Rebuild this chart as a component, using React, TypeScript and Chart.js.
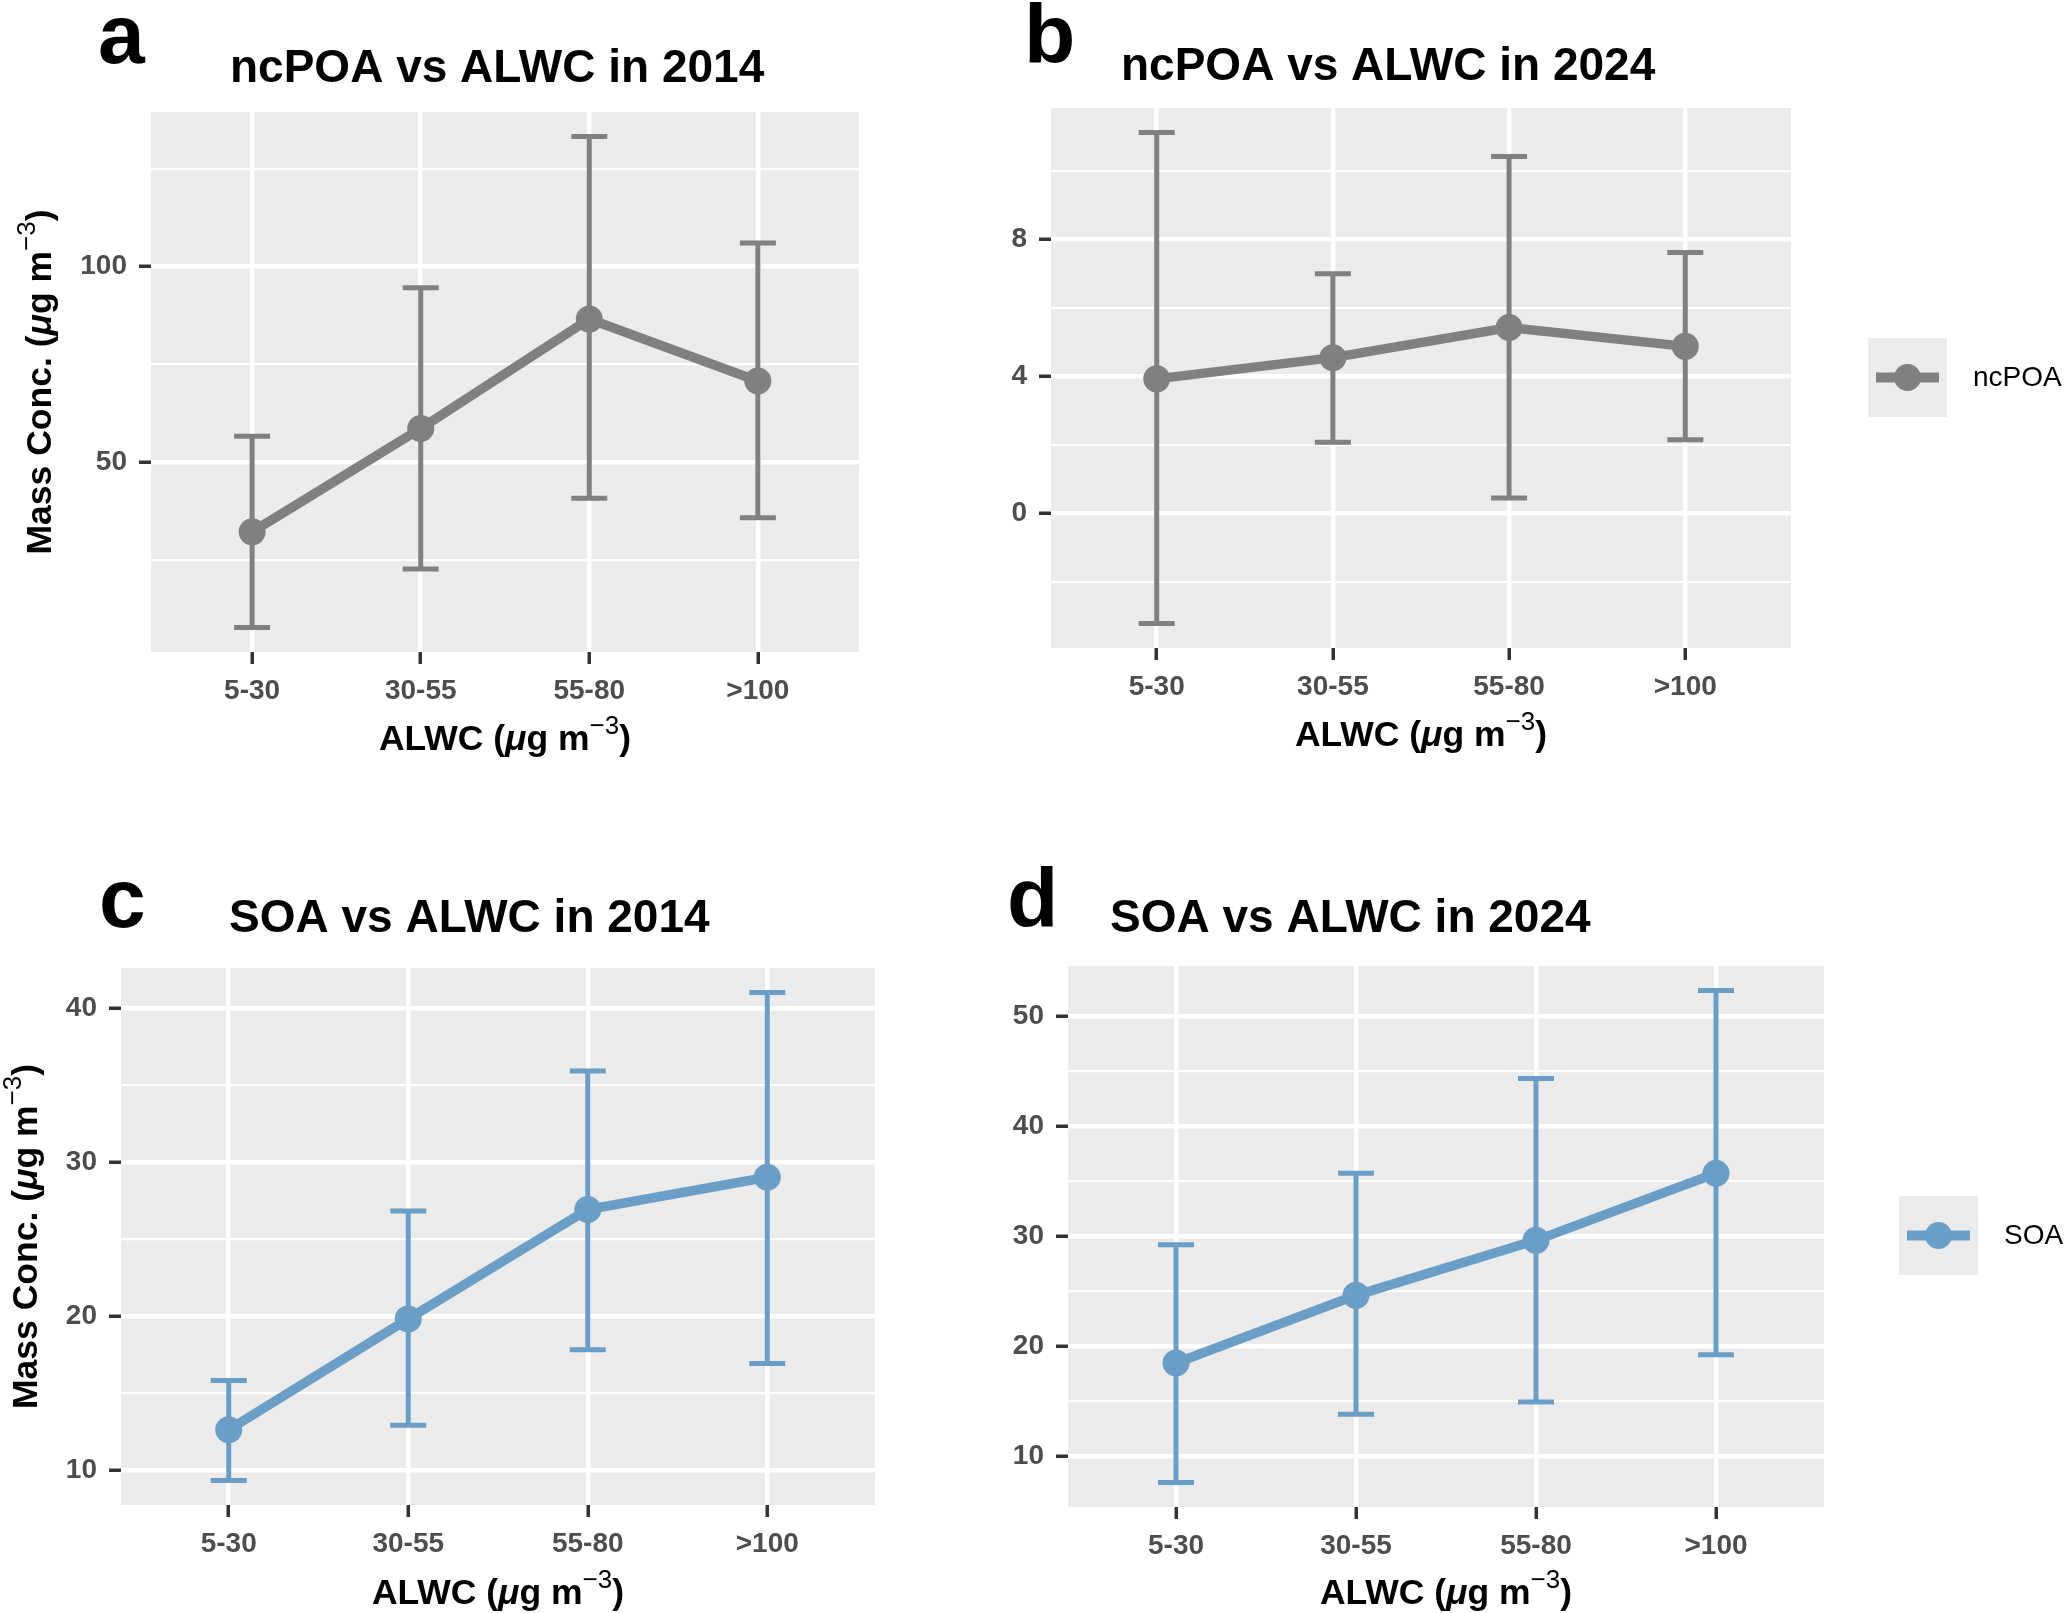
import React, { useEffect, useRef } from 'react';
import { Chart, registerables } from 'chart.js';

Chart.register(...registerables);

// ---------------- data ----------------
const CATEGORIES = ['5-30', '30-55', '55-80', '>100'];

const NCPOA_2014_MEAN = [32.3, 58.7, 86.6, 70.8];
const NCPOA_2014_UPPER = [56.7, 94.6, 133.2, 106.0];
const NCPOA_2014_LOWER = [7.9, 22.8, 40.9, 35.9];

const NCPOA_2024_MEAN = [3.93, 4.55, 5.43, 4.88];
const NCPOA_2024_UPPER = [11.13, 7.0, 10.43, 7.62];
const NCPOA_2024_LOWER = [-3.22, 2.08, 0.45, 2.15];

const SOA_2014_MEAN = [12.6, 19.8, 26.9, 29.0];
const SOA_2014_UPPER = [15.8, 26.8, 35.9, 41.0];
const SOA_2014_LOWER = [9.3, 12.9, 17.8, 16.9];

const SOA_2024_MEAN = [18.45, 24.6, 29.6, 35.7];
const SOA_2024_UPPER = [29.2, 35.7, 44.3, 52.3];
const SOA_2024_LOWER = [7.6, 13.8, 14.9, 19.2];

const A_Y_MAJOR = [50, 100];
const A_Y_MINOR = [25, 75, 125];
const B_Y_MAJOR = [0, 4, 8];
const B_Y_MINOR = [-2, 2, 6, 10];
const C_Y_MAJOR = [10, 20, 30, 40];
const C_Y_MINOR = [15, 25, 35];
const D_Y_MAJOR = [10, 20, 30, 40, 50];
const D_Y_MINOR = [15, 25, 35, 45];

const SERIES_NCPOA = 'ncPOA';
const SERIES_SOA = 'SOA';

// ---------------- style ----------------
const FONT = '"Liberation Sans", Arial, Helvetica, sans-serif';
const GREY = '#808080';
const BLUE = '#6B9EC6';
const PANEL_BG = '#EBEBEB';
const TICK_TEXT = '#4D4D4D';
const TICK_MARK = '#333333';

type Box = { left: number; top: number; width: number; height: number };
type Area = { l: number; t: number; r: number; b: number };
type PanelCfg = {
  letter: string;
  title: string;
  series: string;
  mean: number[];
  upper: number[];
  lower: number[];
  yMajor: number[];
  yMinor: number[];
  color: string;
  canvas: Box;
  area: Area;
  letterPos: [number, number];
  titlePos: [number, number];
  yTitleX: number;
  xTitleY: number;
  legend?: { x: number; y: number; s: number; textX: number };
};

const PANELS: PanelCfg[] = [
  {
    letter: 'a', title: 'ncPOA vs ALWC in 2014', series: SERIES_NCPOA,
    mean: NCPOA_2014_MEAN, upper: NCPOA_2014_UPPER, lower: NCPOA_2014_LOWER,
    yMajor: A_Y_MAJOR, yMinor: A_Y_MINOR, color: GREY,
    canvas: { left: 0, top: 0, width: 1000, height: 800 },
    area: { l: 151, t: 112, r: 859, b: 652 },
    letterPos: [98, 63], titlePos: [230, 82], yTitleX: 51, xTitleY: 750,
  },
  {
    letter: 'b', title: 'ncPOA vs ALWC in 2024', series: SERIES_NCPOA,
    mean: NCPOA_2024_MEAN, upper: NCPOA_2024_UPPER, lower: NCPOA_2024_LOWER,
    yMajor: B_Y_MAJOR, yMinor: B_Y_MINOR, color: GREY,
    canvas: { left: 1000, top: 0, width: 1066, height: 800 },
    area: { l: 1051, t: 108, r: 1791, b: 648 },
    letterPos: [1024, 63], titlePos: [1121, 80], yTitleX: 983, xTitleY: 746,
    legend: { x: 1868, y: 338, s: 79, textX: 1973 },
  },
  {
    letter: 'c', title: 'SOA vs ALWC in 2014', series: SERIES_SOA,
    mean: SOA_2014_MEAN, upper: SOA_2014_UPPER, lower: SOA_2014_LOWER,
    yMajor: C_Y_MAJOR, yMinor: C_Y_MINOR, color: BLUE,
    canvas: { left: 0, top: 806, width: 1000, height: 807 },
    area: { l: 121, t: 968, r: 875, b: 1505 },
    letterPos: [99, 927], titlePos: [229, 932], yTitleX: 37, xTitleY: 1604,
  },
  {
    letter: 'd', title: 'SOA vs ALWC in 2024', series: SERIES_SOA,
    mean: SOA_2024_MEAN, upper: SOA_2024_UPPER, lower: SOA_2024_LOWER,
    yMajor: D_Y_MAJOR, yMinor: D_Y_MINOR, color: BLUE,
    canvas: { left: 1000, top: 806, width: 1066, height: 807 },
    area: { l: 1068, t: 966, r: 1824, b: 1507 },
    letterPos: [1007, 927], titlePos: [1110, 932], yTitleX: 985, xTitleY: 1604,
    legend: { x: 1899, y: 1196, s: 79, textX: 2004 },
  },
];

// ---------------- helpers ----------------
type Part = { t: string; f: string; dy?: number };

function unitParts(prefix: string, size: number): Part[] {
  const b = `bold ${size}px ${FONT}`;
  const bi = `italic bold ${size}px ${FONT}`;
  const sup = `${Math.round(size * 0.72)}px ${FONT}`;
  return [
    { t: prefix + ' (', f: b },
    { t: 'μ', f: bi },
    { t: 'g m', f: b },
    { t: '−3', f: sup, dy: -size * 0.45 },
    { t: ')', f: b },
  ];
}

function drawRich(ctx: CanvasRenderingContext2D, parts: Part[], x: number, y: number, rotate: boolean) {
  ctx.save();
  ctx.translate(x, y);
  if (rotate) ctx.rotate(-Math.PI / 2);
  ctx.textBaseline = 'alphabetic';
  ctx.textAlign = 'left';
  ctx.fillStyle = '#000000';
  let total = 0;
  for (const p of parts) {
    ctx.font = p.f;
    total += ctx.measureText(p.t).width;
  }
  let cx = -total / 2;
  for (const p of parts) {
    ctx.font = p.f;
    ctx.fillText(p.t, cx, p.dy || 0);
    cx += ctx.measureText(p.t).width;
  }
  ctx.restore();
}

function makePlugin(cfg: PanelCfg) {
  const ox = cfg.canvas.left;
  const oy = cfg.canvas.top;
  return {
    id: 'panelDecor_' + cfg.letter,
    beforeDraw(chart: any) {
      const { ctx, chartArea: a } = chart;
      ctx.save();
      ctx.fillStyle = PANEL_BG;
      ctx.fillRect(a.left, a.top, a.right - a.left, a.bottom - a.top);
      ctx.restore();
    },
    beforeDatasetsDraw(chart: any) {
      const { ctx } = chart;
      const xs = chart.scales.x;
      const ys = chart.scales.y;
      ctx.save();
      ctx.strokeStyle = cfg.color;
      ctx.lineWidth = 5;
      ctx.lineCap = 'butt';
      const half = 18;
      cfg.mean.forEach((_, i) => {
        const x = xs.getPixelForValue(i);
        const y1 = ys.getPixelForValue(cfg.lower[i]);
        const y2 = ys.getPixelForValue(cfg.upper[i]);
        ctx.beginPath();
        ctx.moveTo(x, y1);
        ctx.lineTo(x, y2);
        ctx.moveTo(x - half, y1);
        ctx.lineTo(x + half, y1);
        ctx.moveTo(x - half, y2);
        ctx.lineTo(x + half, y2);
        ctx.stroke();
      });
      ctx.restore();
    },
    afterDraw(chart: any) {
      const { ctx, chartArea: a } = chart;
      ctx.save();
      ctx.fillStyle = '#000000';
      ctx.textBaseline = 'alphabetic';
      ctx.textAlign = 'left';
      ctx.font = `bold 84px ${FONT}`;
      ctx.fillText(cfg.letter, cfg.letterPos[0] - ox, cfg.letterPos[1] - oy);
      ctx.font = `bold 46px ${FONT}`;
      ctx.fillText(cfg.title, cfg.titlePos[0] - ox, cfg.titlePos[1] - oy);
      ctx.restore();

      drawRich(ctx, unitParts('Mass Conc.', 35.5), cfg.yTitleX - ox, (a.top + a.bottom) / 2, true);
      drawRich(ctx, unitParts('ALWC', 35.5), (a.left + a.right) / 2, cfg.xTitleY - oy, false);

      if (cfg.legend) {
        const L = cfg.legend;
        const bx = L.x - ox;
        const by = L.y - oy;
        ctx.save();
        ctx.fillStyle = PANEL_BG;
        ctx.fillRect(bx, by, L.s, L.s);
        const cy = by + L.s / 2;
        ctx.strokeStyle = cfg.color;
        ctx.lineWidth = 10;
        ctx.beginPath();
        ctx.moveTo(bx + 8, cy);
        ctx.lineTo(bx + L.s - 8, cy);
        ctx.stroke();
        ctx.fillStyle = cfg.color;
        ctx.beginPath();
        ctx.arc(bx + L.s / 2, cy, 13.5, 0, Math.PI * 2);
        ctx.fill();
        ctx.fillStyle = '#000000';
        ctx.font = `28px ${FONT}`;
        ctx.textBaseline = 'middle';
        ctx.fillText(cfg.series, L.textX - ox, cy + 1);
        ctx.restore();
      }
    },
  };
}

function PanelChart({ cfg }: { cfg: PanelCfg }) {
  const ref = useRef<HTMLCanvasElement | null>(null);
  useEffect(() => {
    const canvas = ref.current;
    if (!canvas) return;
    const W = cfg.canvas.width;
    const H = cfg.canvas.height;
    const ox = cfg.canvas.left;
    const oy = cfg.canvas.top;
    const yWidth = cfg.area.l - ox;
    const xHeight = 100;
    const padTop = cfg.area.t - oy;
    const padRight = W - (cfg.area.r - ox);
    const padBottom = H - (cfg.area.b - oy) - xHeight;

    const lo = Math.min(...cfg.lower);
    const hi = Math.max(...cfg.upper);
    const span = hi - lo;
    const yMin = lo - 0.05 * span;
    const yMax = hi + 0.05 * span;
    const allTicks = [...cfg.yMajor, ...cfg.yMinor].sort((p, q) => p - q);
    const isMajor = (v: number) => cfg.yMajor.includes(v);

    const chart = new Chart(canvas, {
      type: 'line',
      data: {
        datasets: [
          {
            label: cfg.series,
            data: cfg.mean.map((v, i) => ({ x: i, y: v })),
            borderColor: cfg.color,
            backgroundColor: cfg.color,
            borderWidth: 9.5,
            pointRadius: 13.5,
            pointHoverRadius: 13.5,
            pointBackgroundColor: cfg.color,
            pointBorderWidth: 0,
            tension: 0,
          },
        ],
      },
      options: {
        responsive: false,
        maintainAspectRatio: false,
        animation: false,
        events: [],
        layout: { padding: { left: 0, top: padTop, right: padRight, bottom: padBottom } },
        plugins: {
          legend: { display: false },
          title: { display: false },
          tooltip: { enabled: false },
        },
        scales: {
          x: {
            type: 'linear',
            min: -0.6,
            max: CATEGORIES.length - 1 + 0.6,
            afterBuildTicks: (s: any) => {
              s.ticks = CATEGORIES.map((_, i) => ({ value: i }));
            },
            afterFit: (s: any) => {
              s.height = xHeight;
            },
            ticks: {
              autoSkip: false,
              maxRotation: 0,
              padding: 10,
              color: TICK_TEXT,
              font: { family: FONT, size: 28, weight: 'bold' },
              callback: (v: any) => CATEGORIES[Number(v)] ?? '',
            },
            grid: {
              color: '#FFFFFF',
              lineWidth: 4.5,
              tickColor: TICK_MARK,
              tickLength: 12,
              tickWidth: 3.5,
            },
            border: { display: false },
          },
          y: {
            type: 'linear',
            min: yMin,
            max: yMax,
            afterBuildTicks: (s: any) => {
              s.ticks = allTicks.map((v) => ({ value: v }));
            },
            afterFit: (s: any) => {
              s.width = yWidth;
            },
            ticks: {
              autoSkip: false,
              padding: 12,
              color: TICK_TEXT,
              font: { family: FONT, size: 28, weight: 'bold' },
              callback: (v: any) => (isMajor(Number(v)) ? String(v) : ''),
            },
            grid: {
              color: '#FFFFFF',
              lineWidth: (c: any) => (c.tick && isMajor(c.tick.value) ? 4.5 : 2.3),
              tickColor: (c: any) => (c.tick && isMajor(c.tick.value) ? TICK_MARK : 'rgba(0,0,0,0)'),
              tickLength: 12,
              tickWidth: 3.5,
            },
            border: { display: false },
          },
        },
      } as any,
      plugins: [makePlugin(cfg)],
    });
    return () => chart.destroy();
  }, [cfg]);

  return (
    <canvas
      ref={ref}
      width={cfg.canvas.width}
      height={cfg.canvas.height}
      style={{
        position: 'absolute',
        left: cfg.canvas.left,
        top: cfg.canvas.top,
        width: cfg.canvas.width,
        height: cfg.canvas.height,
      }}
    />
  );
}

export default function App() {
  useEffect(() => {
    document.body.style.margin = '0';
    document.body.style.background = '#FFFFFF';
    document.body.style.overflow = 'hidden';
  }, []);
  return (
    <div style={{ position: 'absolute', left: 0, top: 0, width: 2066, height: 1613, background: '#FFFFFF' }}>
      {PANELS.map((p) => (
        <PanelChart key={p.letter} cfg={p} />
      ))}
    </div>
  );
}
